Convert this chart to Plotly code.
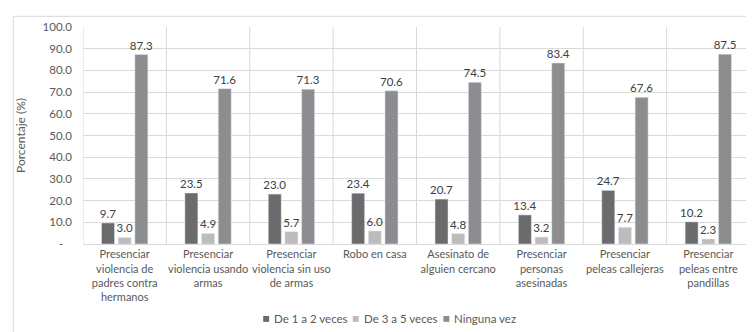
import plotly.graph_objects as go

categories = [
    "Presenciar<br>violencia de<br>padres contra<br>hermanos",
    "Presenciar<br>violencia usando<br>armas",
    "Presenciar<br>violencia sin uso<br>de armas",
    "Robo en casa",
    "Asesinato de<br>alguien cercano",
    "Presenciar<br>personas<br>asesinadas",
    "Presenciar<br>peleas callejeras",
    "Presenciar<br>peleas entre<br>pandillas",
]
de_1_a_2 = [9.7, 23.5, 23.0, 23.4, 20.7, 13.4, 24.7, 10.2]
de_3_a_5 = [3.0, 4.9, 5.7, 6.0, 4.8, 3.2, 7.7, 2.3]
ninguna = [87.3, 71.6, 71.3, 70.6, 74.5, 83.4, 67.6, 87.5]
series_names = ["De 1 a 2 veces", "De 3 a 5 veces", "Ninguna vez"]
colors = ["#6b6b6d", "#bcbcbc", "#8d8d8f"]
tick_vals = [0, 10, 20, 30, 40, 50, 60, 70, 80, 90, 100]
tick_text = ["-   "] + [f"{v:.1f}" for v in tick_vals[1:]]

FONT = "Lato"
TXT = "#595959"
fig = go.Figure()
for name, vals, col in zip(series_names, [de_1_a_2, de_3_a_5, ninguna], colors):
    fig.add_trace(go.Bar(
        x=list(range(len(categories))), y=vals, name=name, marker_color=col,
        text=[f"{v:.1f}" for v in vals], textposition="outside",
        textfont=dict(family=FONT, size=11.5, color="#404040"),
        constraintext="none", cliponaxis=False, showlegend=False,
    ))

fig.update_layout(
    width=754, height=332,
    margin=dict(l=72, r=12, t=13, b=96),
    paper_bgcolor="white", plot_bgcolor="white",
    barmode="group", bargap=0.4, bargroupgap=0.22,
    font=dict(family=FONT, size=11.5, color=TXT),
    showlegend=False,
    xaxis=dict(
        tickmode="array", tickvals=list(range(len(categories))), ticktext=categories,
        range=[-0.5, len(categories) - 0.5],
        showgrid=False, showline=True, linecolor="#d9d9d9", ticks="",
        tickfont=dict(family=FONT, size=11, color=TXT),
        tickangle=0,
    ),
    yaxis=dict(
        range=[0, 100], tickmode="array", tickvals=tick_vals, ticktext=tick_text,
        showgrid=True, gridcolor="#d9d9d9", gridwidth=1, zeroline=False,
        showline=False, ticks="", ticklabelstandoff=10,
        tickfont=dict(family=FONT, size=11.5, color=TXT),
        title=dict(text="Porcentaje (%)", font=dict(family=FONT, size=12, color=TXT), standoff=14),
    ),
)

# vertical category separators
for i in range(len(categories) + 1):
    fig.add_shape(type="line", xref="x", yref="paper", x0=i - 0.5, x1=i - 0.5, y0=0, y1=1,
                  line=dict(color="#d9d9d9", width=1), layer="below")

# legend (manual, compact like the original)
W, H, L, B = 670.0, 223.0, 72.0, 236.0
def px(x):
    return (x - L) / W
def py(y):
    return (B - y) / H
legend_x = [253, 343, 434]
for name, col, lx in zip(series_names, colors, legend_x):
    fig.add_shape(type="rect", xref="paper", yref="paper",
                  x0=px(lx), x1=px(lx + 6), y0=py(316), y1=py(310),
                  fillcolor=col, line=dict(width=0))
    fig.add_annotation(xref="paper", yref="paper", x=px(lx + 9), y=py(313),
                       xanchor="left", yanchor="middle", showarrow=False,
                       text=name, font=dict(family=FONT, size=11.5, color=TXT))

# outer frame (top, left, right)
fig.add_shape(type="line", xref="paper", yref="paper", x0=px(2), x1=px(750), y0=py(2), y1=py(2),
              line=dict(color="#d9d9d9", width=1))
fig.add_shape(type="line", xref="paper", yref="paper", x0=px(2), x1=px(2), y0=py(2), y1=py(340),
              line=dict(color="#d9d9d9", width=1))
fig.add_shape(type="line", xref="paper", yref="paper", x0=px(750), x1=px(750), y0=py(2), y1=py(340),
              line=dict(color="#d9d9d9", width=1))

fig.write_html("out.html")
